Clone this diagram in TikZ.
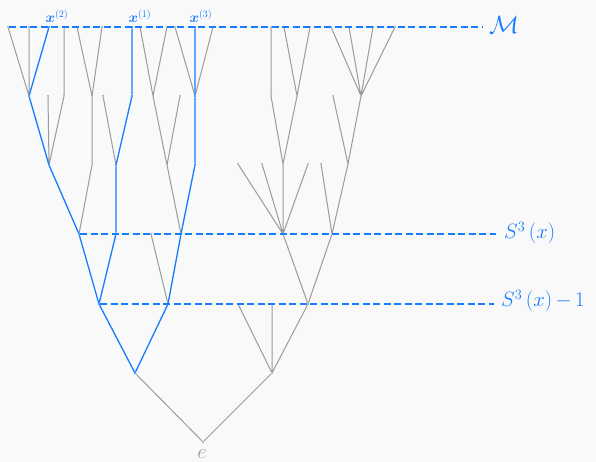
\documentclass[tikz,border=0pt]{standalone}
\usepackage{amsmath,amssymb,bm}
\definecolor{bl}{RGB}{22,124,255}
\definecolor{gr}{RGB}{155,155,155}
\definecolor{bg}{RGB}{249,249,249}
\begin{document}
\begin{tikzpicture}[x=1pt,y=-1pt,
 nd/.style={circle,inner sep=0pt,minimum size=2pt,fill=gr},
 bnd/.style={circle,inner sep=0pt,minimum size=2.2pt,fill=bl},
 ge/.style={draw=gr,line width=1pt},
 be/.style={draw=bl,line width=1.3pt},
 lvl/.style={draw=bl,line width=1.05pt,dash pattern=on 7pt off 3.5pt},
 lab/.style={text=bl,font=\fontsize{22}{24}\selectfont,inner sep=0pt},
 xlab/.style={text=bl,font=\fontsize{14}{16}\selectfont,inner sep=0pt}]
\fill[bg] (0,0) rectangle (596,462);
\useasboundingbox (0,0) rectangle (596,462);
% level 0-2
\node[nd] (r) at (203,442) {};
\node[bnd] (a) at (135,373) {};
\node[nd] (b) at (272,373) {};
\node[bnd] (a1) at (99,304) {};
\node[bnd] (a2) at (168,304) {};
\node[nd] (b1) at (238,304) {};
\node[nd] (b2) at (272,304) {};
\node[nd] (b3) at (308,304) {};
% level 3
\node[bnd] (a11) at (79,234) {};
\node[bnd] (a12) at (116,234) {};
\node[nd] (a21) at (151,234) {};
\node[bnd] (a22) at (181,234) {};
\node[nd] (b31) at (283,234) {};
\node[nd] (b32) at (332,234) {};
% level 4
\node[bnd] (a111) at (49,165) {};
\node[nd] (a112) at (92,165) {};
\node[bnd] (a121) at (116,165) {};
\node[nd] (a221) at (167,165) {};
\node[bnd] (a222) at (195,165) {};
\node[nd] (b311) at (238,164) {};
\node[nd] (b312) at (262,164) {};
\node[nd] (b313) at (283,164) {};
\node[nd] (b314) at (308,164) {};
\node[nd] (b321) at (321,164) {};
\node[nd] (b322) at (348,164) {};
% level 5
\node[bnd] (a1111) at (29,96) {};
\node[nd] (a1112) at (48,96) {};
\node[nd] (a1113) at (64,96) {};
\node[nd] (a1121) at (92,96) {};
\node[nd] (a1211) at (103,96) {};
\node[bnd] (a1212) at (132,96) {};
\node[nd] (a2211) at (153,96) {};
\node[nd] (a2212) at (180,96) {};
\node[bnd] (a2221) at (195,96) {};
\node[nd] (b3131) at (271,96) {};
\node[nd] (b3132) at (297,96) {};
\node[nd] (b3221) at (333,96) {};
\node[nd] (b3222) at (361,96) {};
% level 6
\node[nd] (l1) at (8,27) {};
\node[nd] (l2) at (29,27) {};
\node[bnd] (l3) at (49,27) {};
\node[nd] (l4) at (64,27) {};
\node[nd] (l5) at (77,27) {};
\node[nd] (l6) at (102,27) {};
\node[bnd] (l7) at (132,27) {};
\node[nd] (l8) at (140,27) {};
\node[nd] (l9) at (167,27) {};
\node[nd] (l10) at (175,27) {};
\node[bnd] (l11) at (195,27) {};
\node[nd] (l12) at (213,27) {};
\node[nd] (l13) at (271,27) {};
\node[nd] (l14) at (284,27) {};
\node[nd] (l15) at (310,27) {};
\node[nd] (l16) at (331,27) {};
\node[nd] (l17) at (349,27) {};
\node[nd] (l18) at (373,27) {};
\node[nd] (l19) at (395,27) {};
% gray edges
\path[ge] (r)--(a) (r)--(b) (b)--(b1) (b)--(b2) (b)--(b3)
 (a2)--(a21) (b3)--(b31) (b3)--(b32)
 (a11)--(a112) (a22)--(a221)
 (b31)--(b311) (b31)--(b312) (b31)--(b313) (b31)--(b314)
 (b32)--(b321) (b32)--(b322)
 (a111)--(a1112) (a111)--(a1113) (a112)--(a1121) (a121)--(a1211)
 (a221)--(a2211) (a221)--(a2212)
 (b313)--(b3131) (b313)--(b3132) (b322)--(b3221) (b322)--(b3222)
 (a1111)--(l1) (a1111)--(l2) (a1113)--(l4) (a1121)--(l5) (a1121)--(l6)
 (a2211)--(l8) (a2211)--(l9) (a2221)--(l10) (a2221)--(l12)
 (b3131)--(l13) (b3132)--(l14) (b3132)--(l15)
 (b3222)--(l16) (b3222)--(l17) (b3222)--(l18) (b3222)--(l19);
% blue edges
\path[be] (a)--(a1) (a)--(a2) (a1)--(a11) (a1)--(a12) (a2)--(a22)
 (a11)--(a111) (a12)--(a121) (a22)--(a222)
 (a111)--(a1111) (a121)--(a1212) (a222)--(a2221)
 (a1111)--(l3) (a1212)--(l7) (a2221)--(l11);
% level lines
\coordinate (mend) at (482,27);
\coordinate (s3end) at (496,234);
\coordinate (s31end) at (494,304);
\path[lvl] (l1)--(mend);
\path[lvl] (a11)--(s3end);
\path[lvl] (a1)--(s31end);
\node[lab,anchor=west,font=\fontsize{26}{28}\selectfont] (mlab) at (489,25) {$\mathcal{M}$};
\node[lab,anchor=west] (s3lab) at (504,233) {$S^{3}\,(x)$};
\node[lab,anchor=west] (s31lab) at (501,301) {$S^{3}\,(x)\,{-}\,1$};
\node[xlab] (x1) at (57,16) {$\bm{x}^{(2)}$};
\node[xlab] (x2) at (140,16) {$\bm{x}^{(1)}$};
\node[xlab] (x3) at (201,16) {$\bm{x}^{(3)}$};
\node[text=gr,font=\fontsize{22}{24}\selectfont,inner sep=0pt] (elab) at (202,454) {$e$};
\end{tikzpicture}
\end{document}
